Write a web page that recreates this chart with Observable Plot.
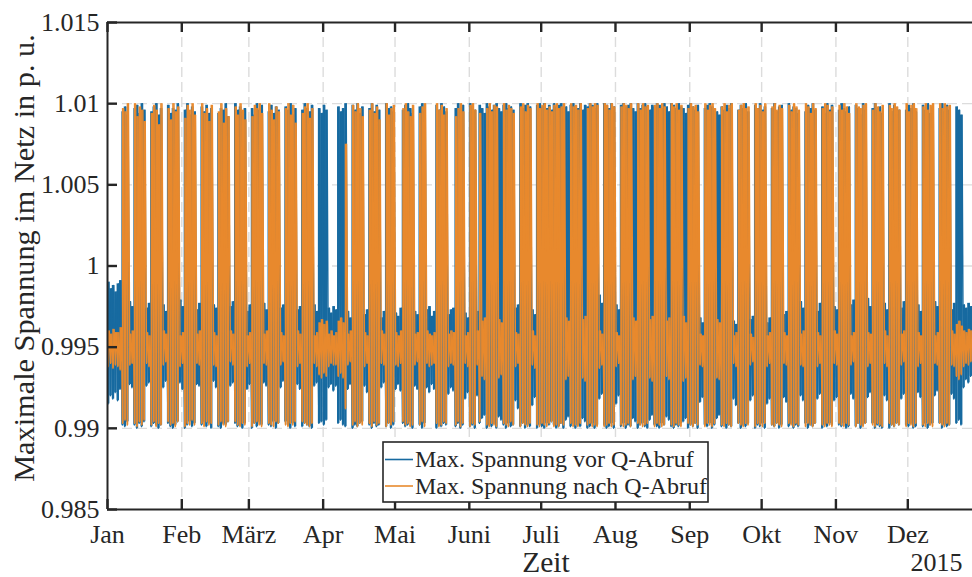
<!DOCTYPE html>
<html><head><meta charset="utf-8">
<script src="https://cdn.jsdelivr.net/npm/d3@7"></script>
<script src="https://cdn.jsdelivr.net/npm/@observablehq/plot@0.6"></script>
<style>
html,body{margin:0;padding:0;background:#fff;overflow:hidden;}
#chart svg, #chart svg text { font-family: "Liberation Serif", "Times New Roman", serif !important; font-variant: normal !important; }
</style></head><body><div id="chart"></div>
<script>
// ---- Daten (Tageswerte, 1. Jan – 27. Dez 2015; Zeilen = Wochen Mo–So, erste Zeile Do–So) ----
const monatsLabels = ["Jan","Feb","März","Apr","Mai","Juni","Juli","Aug","Sep","Okt","Nov","Dez"];
const yTicks = [0.985, 0.99, 0.995, 1, 1.005, 1.01, 1.015];
const yTickLabels = ["0.985","0.99","0.995","1","1.005","1.01","1.015"];
const jahrLabel = "2015";
const xTitel = "Zeit";
const yTitel = "Maximale Spannung im Netz in p. u.";
const serienNamen = ["Max. Spannung vor Q-Abruf", "Max. Spannung nach Q-Abruf"];

const blauMax = [
0.9990,0.9986,0.9988,0.9984,
0.9989,0.9991,1.0095,1.0098,1.0093,0.9978,0.9975,
1.0097,1.0099,1.0094,1.0100,1.0096,0.9974,0.9977,
1.0095,1.0098,1.0100,1.0093,1.0097,0.9976,0.9972,
1.0099,1.0094,1.0097,1.0096,1.0100,0.9979,0.9975,
1.0096,1.0100,1.0093,1.0098,1.0095,0.9973,0.9977,
1.0098,1.0095,1.0099,1.0094,1.0097,0.9976,0.9974,
1.0094,1.0097,1.0096,1.0100,1.0092,0.9975,0.9978,
1.0100,1.0096,1.0098,1.0095,1.0097,0.9972,0.9976,
1.0097,1.0093,1.0100,1.0096,1.0099,0.9977,0.9973,
1.0095,1.0099,1.0094,1.0098,1.0096,0.9974,0.9976,
1.0098,1.0096,1.0100,1.0093,1.0097,0.9973,0.9975,
1.0096,1.0100,1.0097,1.0095,1.0099,0.9976,0.9972,
1.0097,1.0094,1.0099,1.0096,0.9974,0.9971,0.9975,
0.9973,1.0098,1.0095,1.0097,1.0100,0.9972,0.9968,
1.0099,1.0096,1.0100,1.0094,1.0098,0.9970,0.9973,
1.0097,1.0100,1.0095,1.0099,1.0096,0.9968,0.9972,
1.0100,1.0097,1.0098,1.0095,0.9971,0.9969,0.9974,
1.0096,1.0099,1.0100,1.0097,1.0094,0.9972,0.9970,
1.0098,1.0100,1.0095,0.9973,0.9975,0.9969,0.9972,
1.0099,1.0096,1.0100,1.0098,1.0095,0.9970,0.9973,
0.9974,1.0097,1.0100,1.0096,1.0099,0.9971,0.9968,
1.0100,1.0098,1.0096,0.9972,1.0099,1.0097,1.0094,
1.0100,1.0098,1.0096,1.0099,1.0100,1.0097,1.0095,
1.0099,1.0100,1.0097,1.0098,1.0096,0.9974,0.9976,
1.0100,1.0097,1.0099,1.0100,1.0098,0.9973,0.9970,
1.0099,1.0100,1.0098,1.0100,1.0097,1.0099,1.0096,
1.0100,1.0098,1.0099,1.0100,1.0097,1.0098,1.0095,
1.0099,1.0100,1.0098,1.0097,1.0100,1.0096,1.0099,
1.0098,1.0100,1.0099,1.0097,1.0100,0.9982,0.9977,
1.0100,1.0099,1.0097,1.0100,1.0098,0.9976,0.9973,
1.0099,1.0100,1.0098,1.0099,1.0100,1.0097,1.0095,
1.0100,1.0097,1.0099,1.0100,1.0098,1.0096,1.0099,
1.0098,1.0100,1.0099,1.0097,1.0100,1.0098,1.0095,
1.0100,1.0099,1.0097,1.0100,1.0098,1.0097,1.0094,
1.0099,1.0100,1.0098,1.0096,1.0099,0.9968,0.9965,
1.0097,1.0099,1.0100,1.0098,1.0096,1.0095,1.0093,
1.0098,1.0096,1.0099,1.0097,1.0100,0.9966,0.9964,
1.0096,1.0099,1.0097,1.0100,1.0095,0.9967,0.9969,
1.0099,1.0097,1.0100,1.0096,1.0098,0.9965,0.9968,
1.0097,1.0100,1.0095,1.0098,1.0099,0.9970,0.9972,
1.0100,1.0096,1.0098,1.0097,1.0094,0.9978,0.9974,
1.0095,1.0099,1.0097,1.0100,1.0096,0.9972,0.9977,
1.0098,1.0094,1.0100,1.0096,1.0099,0.9975,0.9973,
1.0096,1.0100,1.0097,1.0095,1.0098,0.9976,0.9979,
1.0099,1.0097,1.0093,1.0100,1.0096,0.9980,0.9975,
1.0097,1.0100,1.0096,1.0098,1.0094,0.9977,0.9973,
1.0100,1.0095,1.0099,1.0097,1.0096,0.9974,0.9978,
1.0096,1.0099,1.0097,1.0100,1.0095,0.9976,0.9972,
1.0099,1.0096,1.0100,1.0094,1.0098,0.9978,0.9975,
1.0097,1.0100,1.0095,1.0099,1.0096,0.9973,0.9977,
1.0098,1.0096,1.0093,0.9976,0.9974,0.9977,0.9975
];

const blauMin = [
0.9915,0.9920,0.9918,0.9922,
0.9917,0.9924,0.9902,0.9901,0.9904,0.9927,0.9925,
0.9902,0.9900,0.9903,0.9901,0.9904,0.9926,0.9928,
0.9901,0.9903,0.9902,0.9900,0.9902,0.9925,0.9929,
0.9903,0.9901,0.9900,0.9902,0.9904,0.9928,0.9924,
0.9900,0.9902,0.9904,0.9901,0.9903,0.9927,0.9926,
0.9902,0.9904,0.9901,0.9903,0.9900,0.9929,0.9925,
0.9901,0.9900,0.9903,0.9902,0.9904,0.9926,0.9928,
0.9903,0.9901,0.9902,0.9900,0.9903,0.9924,0.9927,
0.9900,0.9903,0.9901,0.9904,0.9902,0.9928,0.9926,
0.9902,0.9901,0.9904,0.9900,0.9903,0.9925,0.9929,
0.9904,0.9902,0.9900,0.9903,0.9901,0.9927,0.9924,
0.9901,0.9903,0.9902,0.9901,0.9900,0.9926,0.9928,
0.9903,0.9904,0.9902,0.9905,0.9925,0.9927,0.9923,
0.9926,0.9903,0.9905,0.9902,0.9901,0.9924,0.9927,
0.9900,0.9902,0.9901,0.9903,0.9904,0.9926,0.9922,
0.9902,0.9900,0.9903,0.9901,0.9902,0.9925,0.9928,
0.9901,0.9903,0.9900,0.9902,0.9924,0.9927,0.9923,
0.9903,0.9901,0.9902,0.9904,0.9900,0.9926,0.9924,
0.9902,0.9900,0.9903,0.9925,0.9922,0.9927,0.9924,
0.9900,0.9902,0.9901,0.9903,0.9902,0.9921,0.9925,
0.9923,0.9901,0.9903,0.9900,0.9902,0.9918,0.9922,
0.9901,0.9902,0.9900,0.9920,0.9903,0.9906,0.9908,
0.9900,0.9902,0.9901,0.9903,0.9900,0.9907,0.9905,
0.9902,0.9900,0.9903,0.9901,0.9902,0.9917,0.9912,
0.9901,0.9903,0.9900,0.9902,0.9901,0.9914,0.9919,
0.9900,0.9902,0.9901,0.9900,0.9903,0.9902,0.9904,
0.9902,0.9900,0.9901,0.9903,0.9900,0.9905,0.9907,
0.9901,0.9903,0.9900,0.9902,0.9901,0.9906,0.9904,
0.9900,0.9901,0.9903,0.9900,0.9902,0.9918,0.9921,
0.9902,0.9900,0.9901,0.9903,0.9900,0.9915,0.9920,
0.9901,0.9903,0.9900,0.9902,0.9901,0.9906,0.9904,
0.9900,0.9902,0.9903,0.9901,0.9900,0.9905,0.9908,
0.9902,0.9901,0.9900,0.9903,0.9902,0.9907,0.9905,
0.9901,0.9900,0.9902,0.9901,0.9903,0.9904,0.9906,
0.9900,0.9902,0.9901,0.9903,0.9900,0.9916,0.9919,
0.9902,0.9901,0.9903,0.9900,0.9902,0.9906,0.9908,
0.9901,0.9903,0.9900,0.9902,0.9901,0.9918,0.9914,
0.9903,0.9900,0.9902,0.9901,0.9903,0.9917,0.9920,
0.9900,0.9902,0.9901,0.9903,0.9900,0.9915,0.9918,
0.9902,0.9901,0.9903,0.9900,0.9902,0.9919,0.9916,
0.9901,0.9903,0.9900,0.9902,0.9901,0.9920,0.9917,
0.9903,0.9900,0.9902,0.9901,0.9903,0.9918,0.9921,
0.9900,0.9902,0.9901,0.9903,0.9902,0.9917,0.9919,
0.9902,0.9901,0.9903,0.9900,0.9901,0.9921,0.9918,
0.9901,0.9903,0.9900,0.9902,0.9903,0.9919,0.9922,
0.9903,0.9900,0.9902,0.9901,0.9900,0.9920,0.9917,
0.9900,0.9902,0.9901,0.9903,0.9902,0.9918,0.9921,
0.9902,0.9901,0.9903,0.9900,0.9901,0.9922,0.9919,
0.9901,0.9903,0.9900,0.9902,0.9903,0.9920,0.9923,
0.9903,0.9900,0.9902,0.9901,0.9902,0.9921,0.9918,
0.9903,0.9905,0.9902,0.9925,0.9930,0.9928,0.9932
];

const orangeMax = [
0.9960,0.9958,0.9961,0.9959,
0.9959,0.9962,1.0097,1.0095,1.0100,0.9958,0.9960,
1.0100,1.0092,1.0098,1.0096,1.0089,0.9959,0.9957,
1.0094,1.0099,1.0096,1.0087,1.0100,0.9960,0.9958,
1.0097,1.0090,1.0100,1.0095,1.0098,0.9957,0.9959,
1.0091,1.0099,1.0096,1.0100,1.0093,0.9958,0.9960,
1.0100,1.0094,1.0097,1.0089,1.0099,0.9959,0.9957,
1.0095,1.0100,1.0088,1.0097,1.0092,0.9960,0.9958,
1.0098,1.0093,1.0100,1.0096,1.0090,0.9957,0.9959,
1.0092,1.0099,1.0097,1.0100,1.0094,0.9958,0.9960,
1.0100,1.0096,1.0090,1.0098,1.0095,0.9959,0.9957,
1.0097,1.0100,1.0093,1.0099,1.0088,0.9960,0.9958,
1.0094,1.0098,1.0100,1.0091,1.0097,0.9957,0.9959,
0.9965,0.9967,0.9964,0.9966,0.9958,0.9960,0.9957,
0.9959,0.9966,0.9968,0.9965,1.0075,0.9958,0.9960,
1.0099,1.0095,1.0100,1.0097,1.0092,0.9959,0.9957,
1.0096,1.0100,1.0094,1.0098,1.0090,0.9960,0.9958,
1.0100,1.0093,1.0097,1.0099,0.9959,0.9957,0.9960,
1.0097,1.0100,1.0095,1.0092,1.0099,0.9958,0.9959,
1.0094,1.0098,1.0100,0.9960,0.9958,0.9957,0.9959,
1.0100,1.0096,1.0099,1.0093,1.0097,0.9958,0.9960,
0.9959,1.0092,1.0097,1.0100,1.0095,0.9957,0.9959,
1.0099,1.0100,1.0096,0.9960,1.0094,0.9966,0.9968,
1.0097,1.0100,1.0095,1.0099,1.0098,0.9967,0.9965,
1.0100,1.0096,1.0099,1.0097,1.0094,0.9959,0.9958,
1.0098,1.0100,1.0095,1.0099,1.0097,0.9960,0.9957,
1.0100,1.0097,1.0099,1.0100,1.0096,1.0098,1.0095,
1.0099,1.0100,1.0097,1.0098,1.0100,0.9968,0.9966,
1.0100,1.0098,1.0099,1.0096,1.0100,0.9967,0.9969,
1.0097,1.0100,1.0098,1.0100,1.0099,0.9960,0.9958,
1.0100,1.0099,1.0096,1.0100,1.0098,0.9959,0.9957,
1.0098,1.0100,1.0099,1.0097,1.0100,0.9968,0.9966,
1.0100,1.0096,1.0100,1.0098,1.0099,0.9967,0.9969,
1.0099,1.0100,1.0097,1.0100,1.0098,0.9966,0.9968,
1.0100,1.0098,1.0100,1.0096,1.0099,0.9969,0.9965,
1.0097,1.0100,1.0098,1.0099,1.0095,0.9958,0.9957,
1.0100,1.0096,1.0099,1.0100,1.0097,0.9967,0.9965,
1.0098,1.0100,1.0095,1.0099,1.0100,0.9957,0.9959,
1.0096,1.0099,1.0100,1.0097,1.0098,0.9958,0.9956,
1.0100,1.0097,1.0099,1.0095,1.0100,0.9957,0.9959,
1.0098,1.0100,1.0096,1.0099,1.0097,0.9959,0.9957,
1.0099,1.0095,1.0100,1.0098,1.0096,0.9958,0.9960,
1.0100,1.0098,1.0094,1.0100,1.0097,0.9959,0.9957,
1.0097,1.0100,1.0099,1.0095,1.0098,0.9960,0.9958,
1.0099,1.0096,1.0100,1.0098,1.0094,0.9957,0.9959,
1.0100,1.0098,1.0097,1.0099,1.0100,0.9959,0.9958,
1.0096,1.0100,1.0098,1.0095,1.0099,0.9960,0.9957,
1.0099,1.0097,1.0100,1.0098,1.0096,0.9958,0.9960,
1.0100,1.0095,1.0099,1.0100,1.0097,0.9959,0.9957,
1.0098,1.0100,1.0096,1.0099,1.0100,0.9957,0.9959,
1.0100,1.0097,1.0100,1.0098,1.0099,0.9960,0.9958,
0.9964,0.9966,0.9963,0.9960,0.9959,0.9961,0.9960
];

const orangeMin = [
0.9938,0.9940,0.9937,0.9939,
0.9938,0.9936,0.9903,0.9905,0.9902,0.9939,0.9940,
0.9903,0.9901,0.9904,0.9902,0.9905,0.9940,0.9938,
0.9902,0.9904,0.9901,0.9903,0.9902,0.9939,0.9941,
0.9904,0.9902,0.9903,0.9901,0.9904,0.9938,0.9940,
0.9901,0.9903,0.9902,0.9905,0.9902,0.9940,0.9939,
0.9903,0.9901,0.9904,0.9902,0.9903,0.9939,0.9938,
0.9902,0.9904,0.9902,0.9901,0.9904,0.9941,0.9939,
0.9904,0.9902,0.9901,0.9903,0.9902,0.9938,0.9940,
0.9901,0.9903,0.9904,0.9902,0.9901,0.9940,0.9939,
0.9903,0.9902,0.9901,0.9904,0.9903,0.9939,0.9941,
0.9902,0.9901,0.9903,0.9902,0.9904,0.9938,0.9940,
0.9904,0.9903,0.9902,0.9901,0.9903,0.9940,0.9938,
0.9933,0.9931,0.9934,0.9932,0.9938,0.9940,0.9939,
0.9939,0.9932,0.9934,0.9931,0.9912,0.9939,0.9941,
0.9902,0.9904,0.9901,0.9903,0.9902,0.9938,0.9940,
0.9903,0.9901,0.9904,0.9902,0.9903,0.9940,0.9939,
0.9901,0.9903,0.9902,0.9904,0.9939,0.9938,0.9940,
0.9904,0.9902,0.9903,0.9901,0.9902,0.9939,0.9941,
0.9902,0.9904,0.9901,0.9940,0.9938,0.9939,0.9940,
0.9903,0.9901,0.9902,0.9904,0.9903,0.9938,0.9940,
0.9939,0.9902,0.9904,0.9901,0.9903,0.9940,0.9938,
0.9901,0.9903,0.9902,0.9939,0.9904,0.9932,0.9930,
0.9902,0.9901,0.9903,0.9902,0.9901,0.9931,0.9933,
0.9903,0.9902,0.9901,0.9904,0.9902,0.9938,0.9940,
0.9901,0.9903,0.9902,0.9901,0.9903,0.9939,0.9937,
0.9902,0.9901,0.9903,0.9902,0.9901,0.9903,0.9904,
0.9901,0.9902,0.9901,0.9903,0.9902,0.9930,0.9932,
0.9903,0.9901,0.9902,0.9901,0.9903,0.9931,0.9929,
0.9902,0.9903,0.9901,0.9902,0.9901,0.9937,0.9939,
0.9901,0.9902,0.9903,0.9901,0.9902,0.9938,0.9940,
0.9902,0.9901,0.9902,0.9903,0.9901,0.9930,0.9932,
0.9903,0.9902,0.9901,0.9902,0.9903,0.9931,0.9929,
0.9901,0.9903,0.9902,0.9901,0.9902,0.9932,0.9930,
0.9902,0.9901,0.9903,0.9902,0.9901,0.9929,0.9931,
0.9903,0.9902,0.9901,0.9903,0.9902,0.9939,0.9938,
0.9901,0.9903,0.9902,0.9901,0.9903,0.9931,0.9930,
0.9902,0.9901,0.9903,0.9902,0.9901,0.9940,0.9938,
0.9903,0.9902,0.9901,0.9903,0.9902,0.9939,0.9941,
0.9901,0.9903,0.9902,0.9901,0.9903,0.9938,0.9940,
0.9902,0.9901,0.9903,0.9902,0.9901,0.9940,0.9939,
0.9903,0.9902,0.9901,0.9903,0.9902,0.9939,0.9938,
0.9901,0.9903,0.9902,0.9901,0.9903,0.9938,0.9940,
0.9902,0.9901,0.9903,0.9902,0.9901,0.9940,0.9939,
0.9903,0.9902,0.9901,0.9903,0.9902,0.9939,0.9941,
0.9901,0.9903,0.9902,0.9901,0.9903,0.9938,0.9940,
0.9902,0.9901,0.9903,0.9902,0.9901,0.9940,0.9938,
0.9903,0.9902,0.9901,0.9903,0.9902,0.9939,0.9941,
0.9901,0.9903,0.9902,0.9901,0.9903,0.9938,0.9940,
0.9902,0.9901,0.9903,0.9902,0.9901,0.9940,0.9939,
0.9903,0.9902,0.9901,0.9903,0.9902,0.9939,0.9938,
0.9932,0.9930,0.9933,0.9938,0.9940,0.9939,0.9941
];

// ---- Aufbau ----
const farben = ["#176aa0", "#e8892d"];
const start = Date.UTC(2015, 0, 1);
const tagMs = 86400000;
const ende = new Date(start + blauMax.length * tagMs);
const monatsAnfaenge = monatsLabels.map((_, m) => new Date(Date.UTC(2015, m, 1)));

// Tagesbereiche (min..max je Tag) und Tagesverlauf (min -> max)
function bereiche(minArr, maxArr) {
  return minArr.map((v, i) => ({t1: new Date(start + i * tagMs), t2: new Date(start + (i + 1) * tagMs), lo: v, hi: maxArr[i]}));
}
function punkte(minArr, maxArr, tMin, tMax) {
  const out = [];
  minArr.forEach((v, i) => {
    out.push({t: new Date(start + (i + tMin) * tagMs), v});
    out.push({t: new Date(start + (i + tMax) * tagMs), v: maxArr[i]});
  });
  return out;
}
const blauBereiche = bereiche(blauMin, blauMax);
const orangeBereiche = bereiche(orangeMin, orangeMax);
const blauPunkte = punkte(blauMin, blauMax, 0.2, 0.65);
const orangePunkte = punkte(orangeMin, orangeMax, 0.3, 0.78);

const W = 972, H = 577, mL = 107, mR = 0, mT = 22, mB = 68;
const frameH = H - mT - mB, frameW = W - mL - mR;
const achse = "#262626", gitter = "#dcdcdc";
const schrift = "Liberation Serif";

const chart = Plot.plot({
  width: W, height: H,
  marginLeft: mL, marginRight: mR, marginTop: mT, marginBottom: mB,
  style: {fontFamily: schrift, color: achse, background: "#fff", overflow: "visible"},
  x: {type: "utc", domain: [new Date(start), ende]},
  y: {domain: [0.985, 1.015]},
  marks: [
    Plot.ruleX(monatsAnfaenge.slice(1), {stroke: gitter, strokeWidth: 1.4, strokeDasharray: "10,5"}),
    Plot.ruleY(yTicks.slice(1, -1), {stroke: gitter, strokeWidth: 1.4, strokeDasharray: "10,5"}),
    Plot.rect(blauBereiche, {x1: "t1", x2: "t2", y1: "lo", y2: "hi", fill: farben[0]}),
    Plot.line(blauPunkte, {x: "t", y: "v", stroke: farben[0], strokeWidth: 1.3}),
    Plot.rect(orangeBereiche, {x1: "t1", x2: "t2", y1: "lo", y2: "hi", fill: farben[1], insetLeft: 0.5, insetRight: 0.3}),
    Plot.line(orangePunkte, {x: "t", y: "v", stroke: farben[1], strokeWidth: 1.3}),
    Plot.ruleY([0.985, 1.015], {stroke: achse, strokeWidth: 2}),
    Plot.ruleX([new Date(start)], {stroke: achse, strokeWidth: 2}),
    Plot.tickX(monatsAnfaenge, {stroke: achse, strokeWidth: 2.4, insetBottom: frameH - 10}),
    Plot.tickX(monatsAnfaenge, {stroke: achse, strokeWidth: 2.4, insetTop: frameH - 10}),
    Plot.tickY(yTicks, {stroke: achse, strokeWidth: 2.4, insetRight: frameW - 10}),
    Plot.axisX(monatsAnfaenge, {tickSize: 0, tickPadding: 15, fontSize: 26, fontFamily: schrift, fontVariant: "normal", label: null,
      tickFormat: d => monatsLabels[d.getUTCMonth()]}),
    Plot.axisY(yTicks, {tickSize: 0, tickPadding: 8, fontSize: 26, fontFamily: schrift, fontVariant: "normal", label: null,
      tickFormat: d => yTickLabels[yTicks.indexOf(d)]}),
    Plot.text([yTitel], {frameAnchor: "left", textAnchor: "middle", lineAnchor: "middle", dx: -83, dy: -8, rotate: -90, fontSize: 30.3, fontFamily: schrift, fill: achse}),
    Plot.text([xTitel], {frameAnchor: "bottom", textAnchor: "middle", lineAnchor: "middle", dx: 6, dy: 53.5, fontSize: 29.5, fontFamily: schrift, fill: achse}),
    Plot.text([jahrLabel], {frameAnchor: "bottom-right", textAnchor: "end", lineAnchor: "middle", dx: -10, dy: 53, fontSize: 26, fontFamily: schrift, fill: achse})
  ]
});
document.getElementById("chart").appendChild(chart);

// ---- Legende (innerhalb der Achsen) ----
const svg = d3.select(chart);
const lg = svg.append("g").attr("font-family", schrift).attr("font-size", 24).attr("text-anchor", "start");
lg.append("rect").attr("x", 383).attr("y", 442).attr("width", 325).attr("height", 60)
  .attr("fill", "#fff").attr("stroke", achse).attr("stroke-width", 1.6);
serienNamen.forEach((name, i) => {
  const yy = 459.5 + i * 26.5;
  lg.append("line").attr("x1", 385).attr("x2", 413).attr("y1", yy).attr("y2", yy)
    .attr("stroke", farben[i]).attr("stroke-width", 1.6);
  lg.append("text").attr("x", 415).attr("y", yy + 7.5).attr("fill", achse).attr("text-anchor", "start").text(name);
});
</script></body></html>
